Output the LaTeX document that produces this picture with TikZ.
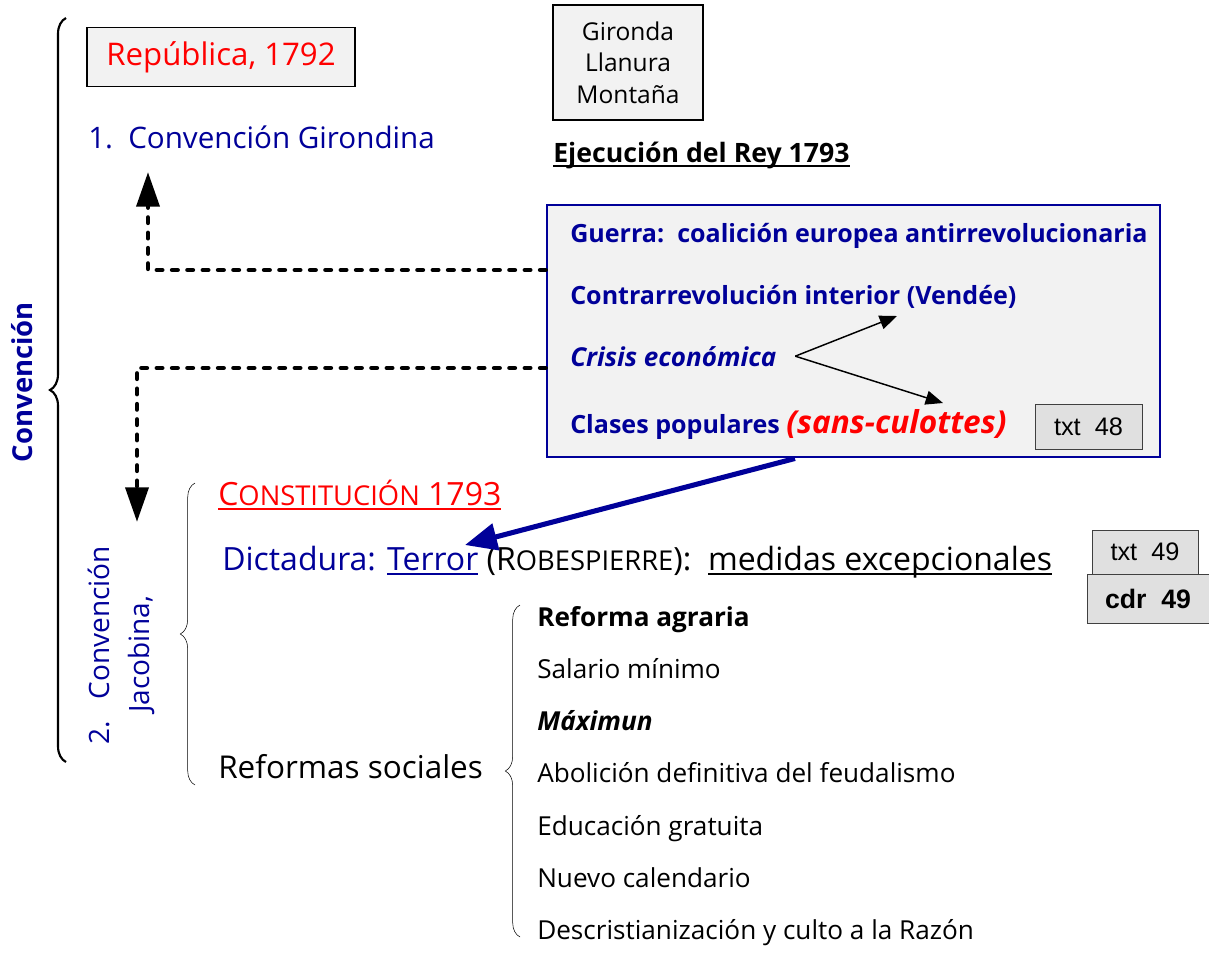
\documentclass[tikz,border=0pt]{standalone}
\usepackage{fontspec}
\setmainfont{Open Sans}
\newfontfamily\arialfont{Liberation Sans}
\usetikzlibrary{positioning,arrows.meta,decorations.pathreplacing}
\definecolor{navy}{RGB}{0,0,153}
\definecolor{boxgray}{RGB}{242,242,242}
\definecolor{refgray}{RGB}{224,224,224}
\newcommand{\scap}[1]{{\fontsize{20.5}{20}\selectfont #1}}
\newcommand{\subr}[1]{\setbox0=\hbox{#1}\makebox[0pt][l]{\rule[-4pt]{\wd0}{1.4pt}}\box0}

\begin{document}
\begin{tikzpicture}[x=0.75pt, y=-0.75pt]

	\tikzstyle{grisbox}=[draw=black, line width=1.2pt, fill=boxgray, inner sep=0pt]
	\tikzstyle{bluebox}=[draw=navy, line width=2.2pt, fill=boxgray, inner sep=0pt]
	\tikzstyle{refbox}=[draw=black!75, fill=refgray, inner sep=0pt, font=\arialfont\fontsize{19}{19}\selectfont]
	\tikzstyle{causa}=[anchor=base west, inner sep=0pt, text=navy, font=\bfseries\fontsize{18.8}{20}\selectfont]
	\tikzstyle{item}=[anchor=base west, inner sep=0pt, font=\fontsize{19.6}{20}\selectfont]
	\tikzstyle{dashedarrow}=[-{Triangle[length=26pt,width=17pt]}, line width=3.5pt, dash pattern=on 4pt off 7.5pt, line cap=round]
	\useasboundingbox (0,0) rectangle (1209,957);

	% Convencion
	\draw[decorate, decoration={brace, amplitude=12pt}, line width=1.6pt] (66,762) -- (66,18);
	\node[rotate=90, text=navy, font=\bfseries\fontsize{20.6}{20}\selectfont] (conv) at (22,382) {Convención};

	% Girondina
	\node[grisbox, minimum width=201pt, minimum height=44pt, text=red, font=\fontsize{23.4}{23}\selectfont] (rep) at (221,57) {República, 1792};
	\node[anchor=base west, inner sep=0pt, text=navy, font=\fontsize{22.2}{22}\selectfont] (gir) at (88,148) {\makebox[30pt][l]{1.}Convención Girondina};
	\node[grisbox, minimum width=112.5pt, minimum height=86pt, align=center, font=\fontsize{18.4}{23.5}\selectfont] (partidos) at (628,62.5) {Gironda\\Llanura\\Montaña};
	\node[anchor=base west, inner sep=0pt, font=\bfseries\fontsize{20}{20}\selectfont] (rey) at (553,162) {\subr{Ejecución del Rey 1793}};

	% Causas
	\node[bluebox, minimum width=459.75pt, minimum height=189pt] (causas) at (853.5,331) {};
	\node[causa] (guerra) at (570,242) {Guerra:\ \ coalición europea antirrevolucionaria};
	\node[causa] (vendee) at (570,304) {Contrarrevolución interior (Vendée)};
	\node[causa, font=\bfseries\itshape\fontsize{19.5}{20}\selectfont] (crisis) at (570,366) {Crisis económica};
	\node[causa] (clases) at (570,433) {Clases populares \textcolor{red}{\fontsize{23.7}{23}\selectfont\itshape(sans-culottes)}};
	\node[refbox, minimum width=80pt, minimum height=33.5pt] (txt48) at (1088.5,426.5) {txt\ \ 48};
	\coordinate (vtip) at (897,316);
	\coordinate (ctip) at (943,403);
	\draw[-{Triangle[length=13pt,width=10.5pt]}, line width=1.1pt] ([xshift=14pt]crisis.east) -- (vtip);
	\draw[-{Triangle[length=13pt,width=10.5pt]}, line width=1.1pt] ([xshift=14pt]crisis.east) -- (ctip);

	% From causas to the two conventions
	\coordinate (girtip) at (148,172);
	\coordinate (jactip) at (137,522);
	\draw[dashedarrow] ([yshift=45.75pt]causas.west) -| (girtip);
	\draw[dashedarrow] ([yshift=-27.75pt]causas.west) -| (jactip);

	% Jacobina
	\draw[decorate, decoration={brace, amplitude=11pt}] (195,785) -- (195,483);
	\node[rotate=90, anchor=north west, inner sep=0pt, align=left, text=navy, font=\fontsize{21}{30}\selectfont] (jac) at (88,745) {\makebox[34pt][l]{2.}Convención\\\hspace*{24pt}Jacobina,};
	\node[anchor=base west, inner sep=0pt, text=red, font=\fontsize{24}{24}\selectfont] (const) at (218,505) {\subr{C\scap{ONSTITUCIÓN} 1793}};
	\node[anchor=base west, inner sep=0pt, font=\fontsize{24}{24}\selectfont] (dict) at (222,570) {\textcolor{navy}{Dictadura: \subr{Terror}} (R\scap{OBESPIERRE}):\ \ \subr{medidas excepcionales}};
	\coordinate (terrortip) at (465,545);
	\draw[-{Triangle[length=24pt,width=20pt]}, navy, line width=3.8pt] ([xshift=-43.9pt]causas.south) -- (terrortip);
	\node[refbox, minimum width=79.5pt, minimum height=33pt] (txt49) at (1145,552) {txt\ \ 49};
	\node[refbox, minimum width=91.5pt, minimum height=36.5pt, font=\arialfont\bfseries\fontsize{20}{20}\selectfont] (cdr49) at (1148,598.5) {cdr\ \ 49};

	% Reformas sociales
	\node[anchor=base west, inner sep=0pt, font=\fontsize{23.6}{24}\selectfont] (reformas) at (218,778) {Reformas sociales};
	\draw[decorate, decoration={brace, amplitude=11pt}] (520,937) -- (520,605);
	\node[item] (m1) at (537,626) {\textbf{Reforma agraria}};
	\node[item] (m2) at ([yshift=-39.2pt]m1.base west) {Salario mínimo};
	\node[item] (m3) at ([yshift=-39.2pt]m2.base west) {\textbf{\textit{Máximun}}};
	\node[item] (m4) at ([yshift=-39.2pt]m3.base west) {Abolición definitiva del feudalismo};
	\node[item] (m5) at ([yshift=-39.2pt]m4.base west) {Educación gratuita};
	\node[item] (m6) at ([yshift=-39.2pt]m5.base west) {Nuevo calendario};
	\node[item] (m7) at ([yshift=-39.2pt]m6.base west) {Descristianización y culto a la Razón};

\end{tikzpicture}
\end{document}
